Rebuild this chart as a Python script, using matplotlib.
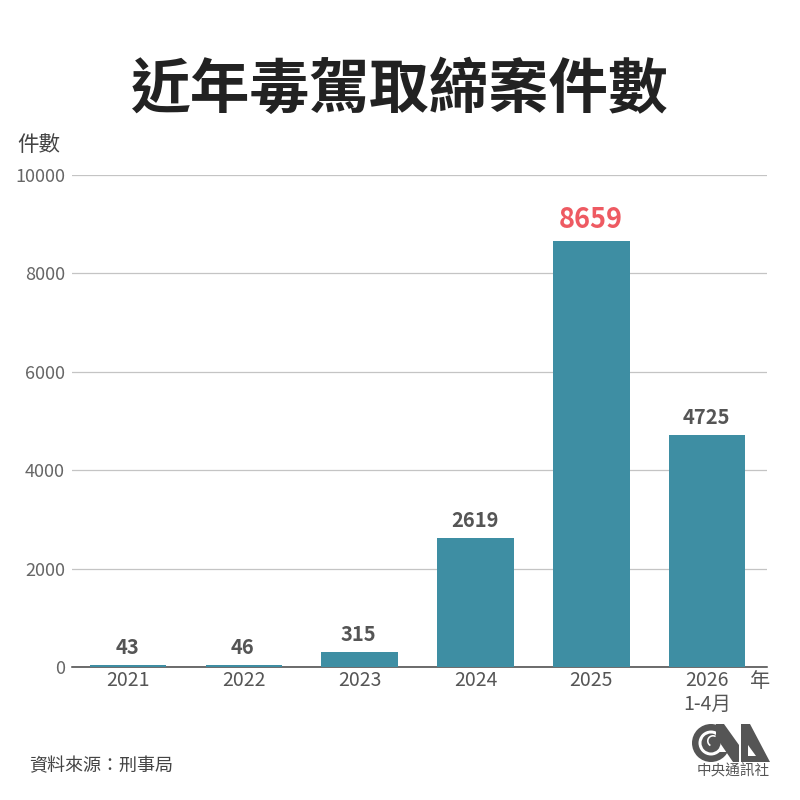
import matplotlib
matplotlib.use('Agg')
import matplotlib.pyplot as plt
from matplotlib.patches import Circle, Polygon, Wedge

plt.rcParams['font.family'] = ['Noto Sans CJK TC', 'DejaVu Sans']

years = ['2021', '2022', '2023', '2024', '2025', '2026\n1-4月']
cases = [43, 46, 315, 2619, 8659, 4725]
yticks = [0, 2000, 4000, 6000, 8000, 10000]

fig = plt.figure(figsize=(8, 8), dpi=100)
ax = fig.add_axes([0.09, 0.166, 0.869, 0.6153])

xpos = list(range(len(years)))
ax.bar(xpos, cases, width=0.66, color='#3e8ea3', zorder=3)

ax.set_xlim(-0.484, 5.518)
ax.set_ylim(0, 10000)
ax.set_yticks(yticks)
ax.set_xticks(xpos)
ax.set_xticklabels(years, fontsize=14, color='#555555', linespacing=1.2)
ax.tick_params(axis='y', length=0, labelsize=13, labelcolor='#666666', pad=5)
ax.tick_params(axis='x', length=0, pad=2)
ax.grid(axis='y', color='#c4c4c4', linewidth=0.9, zorder=0)
ax.set_axisbelow(True)
for s in ['top', 'right', 'left']:
    ax.spines[s].set_visible(False)
ax.spines['bottom'].set_color('#444444')
ax.spines['bottom'].set_linewidth(1.1)

for i, v in enumerate(cases):
    if v == max(cases):
        ax.annotate(str(v), (i, v), xytext=(-0.7, 5), textcoords='offset points', ha='center', va='bottom',
                    fontsize=19.5, fontweight='bold', color='#ee5a62')
    else:
        ax.annotate(str(v), (i, v), xytext=(-0.7, 5), textcoords='offset points', ha='center', va='bottom',
                    fontsize=14.5, fontweight='bold', color='#555555')

fig.text(0.5, 0.886, '近年毒駕取締案件數', ha='center', va='center', fontsize=43, fontweight='bold', color='#222222')
fig.text(0.049, 0.819, '件數', ha='center', va='center', fontsize=15.5, color='#444444')
fig.text(0.9375, 0.148, '年', ha='left', va='center', fontsize=14.5, color='#555555')
fig.text(0.037, 0.042, '資料來源：刑事局', ha='left', va='center', fontsize=13, color='#444444')

# logo, drawn in pixel coordinates of the picture
logo = fig.add_axes([0, 0, 1, 1], facecolor='none')
logo.set_xlim(0, 800)
logo.set_ylim(800, 0)
logo.axis('off')
dark = '#555555'
logo.add_patch(Circle((711, 743), 19, fc=dark, ec='none'))
logo.add_patch(Polygon([[716, 735], [730, 735], [730, 752], [716, 752]], fc='white', ec='none'))
logo.add_patch(Circle((711, 743), 12.5, fc='white', ec='none'))
logo.add_patch(Circle((711, 743), 9.5, fc=dark, ec='none'))
logo.add_patch(Wedge((713, 741), 6, 120, 300, width=1.6, fc='white', ec='none'))
logo.add_patch(Polygon([[716, 724], [724, 724], [739, 745], [739, 762], [733, 762], [716, 737]], fc=dark, ec='none'))
logo.add_patch(Polygon([[741, 724], [750, 724], [770, 762], [741, 762]], fc=dark, ec='none'))
logo.add_patch(Polygon([[748, 745], [756, 756], [748, 756]], fc='white', ec='none'))
fig.text(0.917, 0.0365, '中央通訊社', ha='center', va='center', fontsize=10.5, color='#555555')

fig.savefig('out.png', dpi=100)
